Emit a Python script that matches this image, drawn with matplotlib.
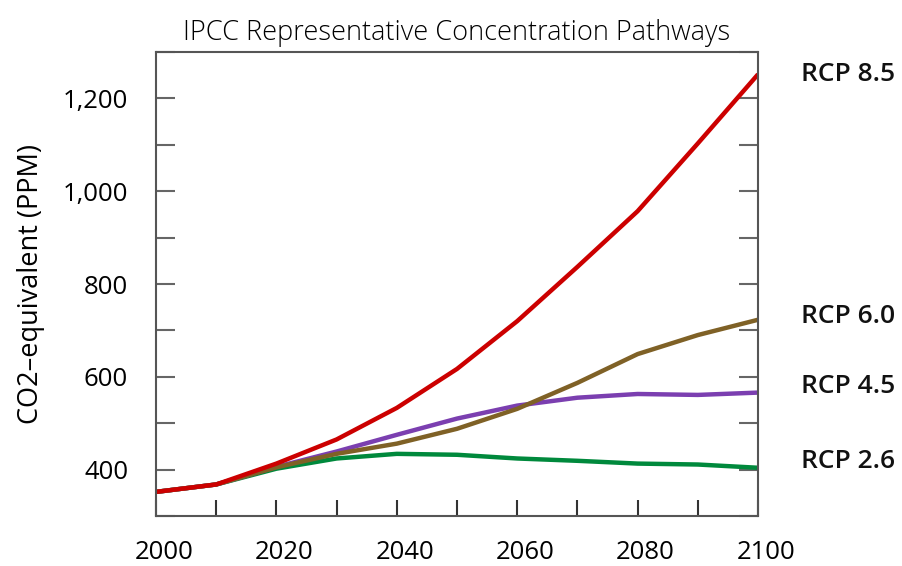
import matplotlib
matplotlib.use("Agg")
import matplotlib.pyplot as plt
import matplotlib.transforms as mtransforms

years = [2000, 2010, 2020, 2030, 2040, 2050, 2060, 2070, 2080, 2090, 2100]
rcp85 = [352, 368, 413, 465, 533, 617, 720, 837, 957, 1103, 1252]
rcp60 = [352, 368, 405, 434, 456, 488, 531, 587, 649, 690, 723]
rcp45 = [352, 368, 406, 439, 475, 510, 538, 555, 563, 561, 566]
rcp26 = [352, 368, 402, 424, 434, 432, 424, 419, 413, 411, 404]

names = ["RCP 2.6", "RCP 4.5", "RCP 6.0", "RCP 8.5"]
label_y = [417, 580, 729, 1252]
colors = ["#00893c", "#7b3fb0", "#7f6126", "#cc0000"]

plt.rcParams["font.family"] = ["Open Sans", "DejaVu Sans"]

fig = plt.figure(figsize=(9.02, 5.66), dpi=100)
ax = fig.add_axes([0.1729, 0.0883, 0.8404 - 0.1729, 0.9081 - 0.0883])

for vals, c in zip([rcp26, rcp45, rcp60, rcp85], colors):
    ax.plot(years, vals, color=c, lw=3.2, solid_capstyle="butt")

for name, yv in zip(names, label_y):
    ax.annotate(name, xy=(1, yv), xycoords=("axes fraction", "data"),
                xytext=(31, 0), textcoords="offset points",
                ha="left", va="center", fontsize=19, fontweight="semibold",
                color="#111111")

ax.set_xlim(2000, 2100)
ax.set_ylim(300, 1300)
ax.set_xticks(range(2000, 2101, 10))
ax.set_xticklabels([str(y) if y % 20 == 0 else "" for y in range(2000, 2101, 10)])
ax.set_yticks(range(300, 1301, 100))
ax.set_yticklabels(["{:,}".format(v) if v % 200 == 0 else "" for v in range(300, 1301, 100)])

for s in ax.spines.values():
    s.set_color("#555555")
    s.set_linewidth(1.5)
ax.tick_params(axis="x", direction="in", length=11.5, width=1.5, color="#333333",
               labelsize=18.5, pad=17)
ax.tick_params(axis="y", direction="in", length=13.5, width=1.5, color="#666666",
               labelsize=18.5, pad=20, right=True)

shift = mtransforms.ScaledTranslation(8 / 100, 0, fig.dpi_scale_trans)
for lab in ax.get_xticklabels():
    lab.set_transform(lab.get_transform() + shift)

ax.set_ylabel("CO2\u2013equivalent (PPM)", fontsize=19.5, labelpad=13)
ax.set_title("IPCC Representative Concentration Pathways", fontsize=19.5,
             fontweight="light", pad=9)

fig.savefig("out.png", dpi=100)
